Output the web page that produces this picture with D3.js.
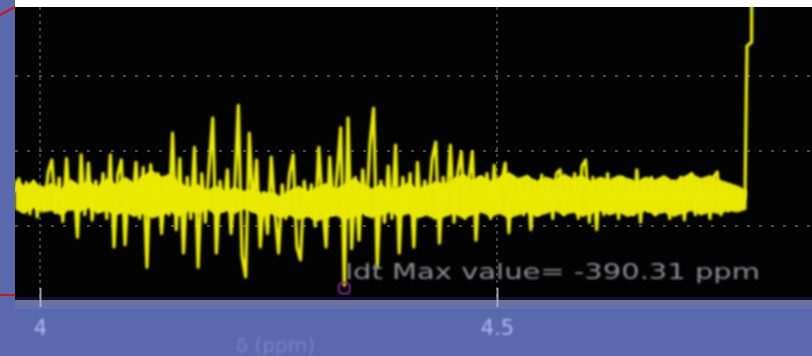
<!DOCTYPE html>
<html>
<head>
<meta charset="utf-8">
<script src="https://cdn.jsdelivr.net/npm/d3@7/dist/d3.min.js"></script>
<style>
  html, body { margin: 0; padding: 0; background: #5a69ab; }
  svg { display: block; }
</style>
</head>
<body>
<svg id="chart" width="812" height="356"></svg>
<script>
// Chemical-shift axis ticks (ppm) and signal samples
const tickValues = [4, 4.5];
const gridValues = [0, 10, 20];
const sampleStart = 3.973;
const sampleStep = 0.004;
const signal = [
  4.5, 6.3, 2.0, 5.8, 1.6, 6.0, 1.2, 5.2, 2.5, 7.2,
  8.8, 1.8, 6.4, 0.6, 9.0, 2.2, 5.5, -1.5, 9.5, 1.5,
  8.4, 0.8, 6.0, 2.2, 7.0, 1.0, 9.5, -2.8, 6.8, 8.8,
  -2.5, 5.5, 2.5, 8.5, 1.0, 7.8, -5.5, 8.2, 2.0, 7.0,
  -1.0, 6.0, 1.5, 12.4, -0.5, 9.0, -3.6, 6.5, 1.0, 10.5,
  -5.5, 7.0, 0.5, 8.0, 14.4, -3.6, 6.0, 2.0, 7.5, -1.0,
  5.0, 16.1, -4.0, -6.8, 12.4, 2.0, 8.8, -2.8, 4.5, -1.0,
  9.2, 2.0, -3.6, 5.5, 1.0, 7.0, 9.5, -2.8, -4.5, 6.0,
  2.5, 5.5, 0.0, 10.5, 3.0, -2.8, 9.2, 1.5, 7.0, 13.1,
  -7.9, 14.4, -3.0, 6.5, -1.9, 7.5, 1.5, 11.0, 15.7, -5.5,
  6.0, 0.5, 8.0, 1.0, 10.8, -3.6, 6.5, 2.0, 7.0, -2.8,
  8.5, 1.5, 6.0, 2.5, 9.0, 11.2, -2.3, 6.5, 3.0, 10.8,
  0.5, 7.0, 9.9, 1.0, 6.0, 9.9, -1.9, 6.5, 2.0, 7.0,
  1.0, 8.1, 2.0, 6.0, 8.4, -0.9, 6.5, 2.0, 6.0, 1.5,
  6.5, -0.5, 6.0, 1.5, 6.8, 2.0, 6.0, 1.0, 7.0, 7.5,
  1.5, 6.0, 2.0, 7.0, 1.0, 8.0, 8.8, 0.5, 6.5, -0.5,
  6.0, 1.5, 7.0, 2.0, 6.0, 1.0, 6.5, 2.0, 6.0, 1.5,
  7.5, 0.5, 6.0, 2.0, 6.5, 1.5, 6.0, 2.0, 5.5, 1.0,
  6.0, 2.0, 6.5, 0.8, 6.5, 7.0, 1.5, 6.0, 2.0, 5.5,
  1.0, 6.5, 7.2, 1.5, 5.5, 2.0, 5.0, 2.5, 4.5, 3.0
];
// Dense noise core: upper and lower bounds sampled every 0.01 ppm
const bandStep = 0.01;
const bandHigh = [
  6.2, 5.4, 6.0, 5.2, 5.8, 4.9, 6.3, 5.5, 6.0, 5.3,
  6.4, 5.6, 6.6, 5.8, 6.8, 7.4, 6.6, 7.0, 5.8, 5.2,
  5.6, 4.8, 5.4, 4.6, 5.2, 4.7, 5.0, 4.4, 4.6, 4.0,
  4.8, 5.4, 4.6, 5.2, 5.8, 5.0, 5.6, 6.4, 5.6, 5.0,
  5.6, 4.8, 5.2, 5.8, 5.0, 5.4, 6.0, 5.6, 6.4, 7.0,
  6.2, 6.8, 6.0, 6.6, 7.2, 6.4, 6.8, 6.0, 6.6, 6.2,
  7.0, 6.4, 6.8, 6.0, 6.6, 6.2, 6.8, 6.4, 6.0, 6.6,
  6.2, 6.8, 6.0, 6.6, 7.0, 6.4, 6.8, 6.2, 5.8, 5.4, 4.8
];
const bandLow = [
  2.2, 1.6, 2.4, 1.8, 2.0, 1.4, 2.2, 1.8, 2.4, 1.6,
  2.0, 1.4, 1.8, 1.2, 1.6, 1.0, 1.4, 1.8, 1.2, 2.0,
  1.6, 2.2, 1.4, 2.0, 1.6, 2.2, 1.8, 1.2, 1.6, 1.0,
  1.4, 0.8, 1.2, 0.6, 1.0, 1.4, 0.8, 1.2, 1.6, 1.0,
  1.4, 1.8, 1.2, 1.6, 1.0, 1.4, 0.8, 1.2, 1.6, 1.0,
  1.4, 1.8, 1.2, 1.6, 1.0, 1.4, 1.8, 1.2, 1.6, 2.0,
  1.4, 1.8, 1.2, 1.6, 2.0, 1.4, 1.8, 1.2, 1.6, 2.0,
  1.4, 1.8, 1.2, 1.6, 2.0, 1.4, 1.8, 1.6, 2.0, 1.8, 2.2
];
// Rising edge of the large peak to the right
const riseX = [4.7713, 4.7735, 4.7785, 4.7790];
const riseV = [4.0, 24.0, 24.5, 40.0];
const maxLabel = "ldt Max value= -390.31 ppm";

const W = 812, H = 356;
const plot = { left: 15, top: 7, right: 812, bottom: 300 };

const svg = d3.select("#chart");
const defs = svg.append("defs");
defs.append("clipPath").attr("id", "plotClip")
  .append("rect")
  .attr("x", plot.left).attr("y", plot.top)
  .attr("width", plot.right - plot.left).attr("height", plot.bottom - plot.top);
const soft = defs.append("filter").attr("id", "soft")
  .attr("x", "-5%").attr("y", "-5%").attr("width", "110%").attr("height", "110%");
soft.append("feGaussianBlur").attr("stdDeviation", 0.8);
const softer = defs.append("filter").attr("id", "softer");
softer.append("feGaussianBlur").attr("stdDeviation", 0.9);

const x = d3.scaleLinear().domain([4, 4.5]).range([40, 497]);
const y = d3.scaleLinear().domain([0, 20]).range([226, 76]);

// Frame: window background, top strip, plot area
svg.append("rect").attr("width", W).attr("height", H).attr("fill", "#5a69ab");
svg.append("rect").attr("x", plot.left).attr("y", 0)
  .attr("width", W - plot.left).attr("height", plot.top).attr("fill", "#ffffff");
svg.append("rect").attr("x", plot.left).attr("y", plot.top)
  .attr("width", plot.right - plot.left).attr("height", plot.bottom - plot.top)
  .attr("fill", "#030303");
svg.append("rect").attr("x", plot.left).attr("y", plot.bottom - 3)
  .attr("width", plot.right - plot.left).attr("height", 3).attr("fill", "#12102a");
svg.append("rect").attr("x", plot.left).attr("y", plot.bottom)
  .attr("width", plot.right - plot.left).attr("height", 6).attr("fill", "#6d719e");
svg.append("rect").attr("x", plot.left).attr("y", plot.bottom + 6)
  .attr("width", plot.right - plot.left).attr("height", 3).attr("fill", "#6572b2");

// Grid
const grid = svg.append("g").attr("clip-path", "url(#plotClip)");
grid.selectAll("line.h").data(gridValues).join("line")
  .attr("class", "h")
  .attr("x1", plot.left).attr("x2", plot.right)
  .attr("y1", d => y(d)).attr("y2", d => y(d))
  .attr("stroke", "#4a4a4a").attr("stroke-width", 2)
  .attr("stroke-dasharray", "3,9");
grid.selectAll("line.v").data(tickValues).join("line")
  .attr("class", "v")
  .attr("x1", d => x(d)).attr("x2", d => x(d))
  .attr("y1", plot.top).attr("y2", plot.bottom)
  .attr("stroke", "#3e3e3e").attr("stroke-width", 2)
  .attr("stroke-dasharray", "3,4");

// Spectrum trace
const trace = svg.append("g").attr("clip-path", "url(#plotClip)");
const band = bandHigh.map((h, i) => ({ x: sampleStart + i * bandStep, hi: h, lo: bandLow[i] }));
const area = d3.area().x(d => x(d.x)).y0(d => y(d.lo)).y1(d => y(d.hi));
trace.append("path").datum(band)
  .attr("d", area)
  .attr("fill", "#e6e600")
  .attr("filter", "url(#soft)");

const points = signal.map((v, i) => [sampleStart + i * sampleStep, v])
  .concat(riseX.map((xv, i) => [xv, riseV[i]]));
const line = d3.line().x(d => x(d[0])).y(d => y(d[1]));
trace.append("path").datum(points)
  .attr("d", line)
  .attr("fill", "none")
  .attr("stroke", "#eaea00")
  .attr("stroke-width", 3.2)
  .attr("stroke-linejoin", "round")
  .attr("filter", "url(#soft)");

// Marker on the lowest sample
const minIdx = d3.minIndex(signal);
trace.append("circle")
  .attr("cx", x(sampleStart + minIdx * sampleStep))
  .attr("cy", y(signal[minIdx]) + 3)
  .attr("r", 6)
  .attr("fill", "none")
  .attr("stroke", "#8a2a9e")
  .attr("stroke-width", 2)
  .attr("filter", "url(#soft)");

// Peak annotation
svg.append("text")
  .attr("x", 345).attr("y", 279)
  .attr("font-family", "DejaVu Sans, sans-serif")
  .attr("font-size", 22)
  .attr("fill", "#8a8a92")
  .attr("textLength", 415)
  .attr("lengthAdjust", "spacingAndGlyphs")
  .attr("filter", "url(#softer)")
  .text(maxLabel);

// Bottom axis
const axis = d3.axisBottom(x).tickValues(tickValues).tickFormat(d3.format("")).tickSizeOuter(0);
const ax = svg.append("g").attr("transform", `translate(0,${plot.bottom})`).call(axis);
ax.select(".domain").remove();
ax.selectAll(".tick line")
  .attr("y1", -12).attr("y2", 7)
  .attr("stroke", "#b8bcd8").attr("stroke-width", 2).attr("opacity", 0.8);
ax.selectAll(".tick text")
  .attr("y", 35).attr("dy", 0)
  .attr("font-family", "DejaVu Sans, sans-serif")
  .attr("font-size", 21)
  .attr("fill", "#aebaf2")
  .attr("filter", "url(#softer)");

// Axis title
svg.append("text")
  .attr("x", 236).attr("y", 352)
  .attr("font-family", "DejaVu Sans, sans-serif")
  .attr("font-size", 20)
  .attr("fill", "#7483c6")
  .attr("filter", "url(#softer)")
  .text("δ (ppm)");

// Cursor marks at the left edge
svg.append("line").attr("x1", 0).attr("y1", 15).attr("x2", plot.left).attr("y2", plot.top)
  .attr("stroke", "#d41414").attr("stroke-width", 2);
svg.append("line").attr("x1", 0).attr("y1", 295).attr("x2", plot.left).attr("y2", 295)
  .attr("stroke", "#d41414").attr("stroke-width", 2);
</script>
</body>
</html>
